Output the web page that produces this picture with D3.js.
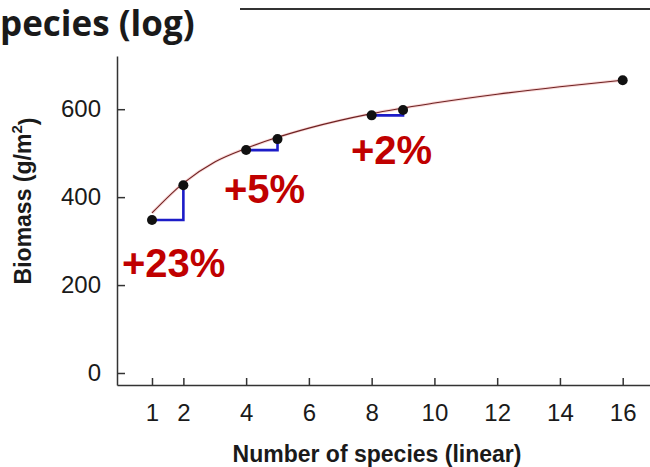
<!DOCTYPE html>
<html>
<head>
<meta charset="utf-8">
<script src="https://cdn.jsdelivr.net/npm/d3@7"></script>
<style>
  body { margin: 0; background: #fff; }
  svg { display: block; }
  .axis path, .axis line { stroke: #333; stroke-width: 1.5; }
  .axis text { font-family: "Liberation Sans", Arial, sans-serif; font-size: 24px; fill: #1a1a1a; }
</style>
</head>
<body>
<svg></svg>
<script>
const size = {w: 650, h: 467};
const svg = d3.select('svg')
    .attr('width', size.w)
    .attr('height', size.h);

// data
const species = [1, 2, 4, 5, 8, 9, 16];
const biomass = [348, 427, 507, 532, 586, 598, 666];
// fitted curve
const curveX = [1, 2, 3, 4, 5, 6, 8, 10, 12, 14, 16];
const curveY = [364, 432, 480, 511, 536, 557, 590, 614, 634, 651, 666];
// steps: [from index, to index, label]
const steps = [[0, 1, '+23%'], [2, 3, '+5%'], [4, 5, '+2%']];
const xTicks = [1, 2, 4, 6, 8, 10, 12, 14, 16];
const yTicks = [0, 200, 400, 600];

// scales
const x = d3.scaleLinear().domain([-0.115, 16.87]).range([117, 650]);
const y = d3.scaleLinear().domain([-27.3, 721]).range([385, 56]);

// title (cropped) and line from neighbouring panel
svg.append('text')
    .attr('x', 0)
    .attr('y', 36)
    .style('font-family', '"Open Sans", sans-serif')
    .style('font-weight', 700)
    .style('font-size', '35px')
    .style('fill', '#1a1a1a')
    .text('pecies (log)');

svg.append('line')
    .attr('x1', 240).attr('x2', 650)
    .attr('y1', 9).attr('y2', 9)
    .attr('stroke', '#333')
    .attr('stroke-width', 2);

// axes
svg.append('g').classed('axis', true)
    .attr('transform', 'translate(0,385)')
    .call(d3.axisBottom(x).tickValues(xTicks).tickSize(-7).tickSizeOuter(0).tickPadding(19));

svg.append('g').classed('axis', true)
    .attr('transform', 'translate(117,0)')
    .call(d3.axisLeft(y).tickValues(yTicks).tickSize(-8).tickSizeOuter(0).tickPadding(16));

// axis titles
svg.append('text')
    .attr('x', 377)
    .attr('y', 462)
    .attr('text-anchor', 'middle')
    .style('font-family', '"Liberation Sans", Arial, sans-serif')
    .style('font-weight', 700)
    .style('font-size', '23px')
    .style('fill', '#1a1a1a')
    .text('Number of species (linear)');

let yLab = svg.append('text')
    .attr('transform', 'translate(31,201) rotate(-90)')
    .attr('text-anchor', 'middle')
    .style('font-family', '"Liberation Sans", Arial, sans-serif')
    .style('font-weight', 700)
    .style('font-size', '23px')
    .style('fill', '#1a1a1a');
yLab.append('tspan').text('Biomass (g/m');
yLab.append('tspan').attr('dy', '-0.6em').style('font-size', '15px').text('2');
yLab.append('tspan').attr('dy', '0.6em').text(')');

// fitted curve
const curveData = curveX.map((d, i) => [d, curveY[i]]);
const line = d3.line()
    .x(d => x(d[0]))
    .y(d => y(d[1]))
    .curve(d3.curveMonotoneX);

svg.append('path')
    .attr('d', line(curveData))
    .attr('fill', 'none')
    .attr('stroke', '#f3b0b0')
    .attr('stroke-width', 3)
    .attr('opacity', 0.5);
svg.append('path')
    .attr('d', line(curveData))
    .attr('fill', 'none')
    .attr('stroke', '#6e2222')
    .attr('stroke-width', 1.1);

// blue steps
svg.append('g').selectAll('path')
    .data(steps)
    .join('path')
    .attr('d', d => {
        let a = d[0], b = d[1];
        return 'M' + x(species[a]) + ',' + y(biomass[a]) +
            'H' + x(species[b]) + 'V' + y(biomass[b]);
    })
    .attr('fill', 'none')
    .attr('stroke', '#1c1cc8')
    .attr('stroke-width', 2.6);

// points
svg.append('g').selectAll('circle')
    .data(species)
    .join('circle')
    .attr('cx', d => x(d))
    .attr('cy', (d, i) => y(biomass[i]))
    .attr('r', 5)
    .attr('fill', '#111');

// percentage labels
const labelPos = [[122, 277], [224, 203], [351, 164]];
svg.append('g').selectAll('text')
    .data(steps)
    .join('text')
    .attr('x', (d, i) => labelPos[i][0])
    .attr('y', (d, i) => labelPos[i][1])
    .style('font-family', '"Liberation Sans", Arial, sans-serif')
    .style('font-weight', 700)
    .style('font-size', '40px')
    .style('fill', '#c00000')
    .text(d => d[2]);
</script>
</body>
</html>
